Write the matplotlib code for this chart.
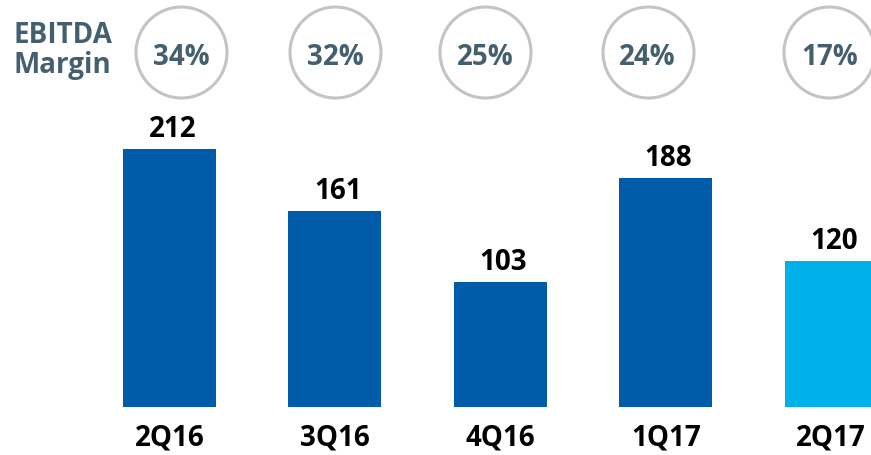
import matplotlib
matplotlib.use("Agg")
import matplotlib.pyplot as plt
import matplotlib.transforms as mtransforms

# --- data ---
quarters = ["2Q16", "3Q16", "4Q16", "1Q17", "2Q17"]
ebitda = [212, 161, 103, 188, 120]
margins = ["34%", "32%", "25%", "24%", "17%"]

# --- style ---
DARK = "#005CA9"
LIGHT = "#00B0E8"
SLATE = "#44606E"
RING = "#C4C4C4"
FONT = ["Open Sans", "DejaVu Sans"]
FS = 20
colors = [DARK] * 4 + [LIGHT]
ring_shift = [0.07, 0.0, -0.09, -0.11, -0.01]   # circles are not quite centred over bars

W, H, DPI = 871, 455, 100
fig = plt.figure(figsize=(W / DPI, H / DPI), dpi=DPI)
ax = fig.add_axes([0, 0, 1, 1])
ax.set_axis_off()

# pixel mapping: bar pitch 165.4 px, first centre at 169.5 px, 1.217 px per unit
pitch, x0, ppu, base_px = 165.4, 169.5, 1.217, 48
ax.set_xlim(-x0 / pitch, (W - x0) / pitch)
ax.set_ylim(-base_px / ppu, (H - base_px) / ppu)

xs = list(range(len(quarters)))
ax.bar(xs, ebitda, width=0.563, color=colors, zorder=2)

for x, v in zip(xs, ebitda):
    ax.annotate(f"{v}", (x, v), xytext=(2, 8.5), textcoords="offset points",
                ha="center", va="baseline", fontsize=FS, fontweight="bold",
                color="black", family=FONT)

trans = mtransforms.blended_transform_factory(ax.transData, ax.transAxes)
for x, q in zip(xs, quarters):
    ax.text(x, 9 / H, q, transform=trans, ha="center", va="baseline",
            fontsize=FS, fontweight="bold", color="black", family=FONT)

# margin rings
ring_y = (H - 52) / H
cx = [x + s for x, s in zip(xs, ring_shift)]
ax.scatter(cx, [ring_y] * len(cx), transform=trans, s=(91 * 72 / DPI) ** 2,
           facecolors="white", edgecolors=RING, linewidths=2.2, zorder=3,
           clip_on=False)
for x, m in zip(cx, margins):
    ax.text(x, (H - 65) / H, m, transform=trans, ha="center", va="baseline",
            fontsize=FS, fontweight="bold", color=SLATE, family=FONT, zorder=4)

fig.text(13 / W, (H - 43) / H, "EBITDA", ha="left", va="baseline",
         fontsize=FS, fontweight="bold", color=SLATE, family=FONT)
fig.text(13 / W, (H - 73) / H, "Margin", ha="left", va="baseline",
         fontsize=FS, fontweight="bold", color=SLATE, family=FONT)

fig.savefig("out.png", dpi=DPI)
